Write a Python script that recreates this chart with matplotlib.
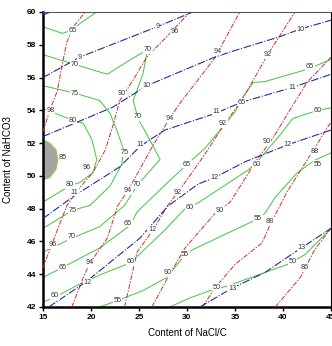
import matplotlib
matplotlib.use('Agg')
import matplotlib.pyplot as plt

plt.rcParams['font.family'] = ['Liberation Sans', 'DejaVu Sans']

#%% blue dash-dot contours (levels 8..13)
blue_lines = {
    '8':  ([15.0, 15.7], [59.8, 60.0]),
    '9':  ([15.0, 18.85, 26.9, 30.6], [56.0, 57.25, 59.1, 60.0]),
    '10': ([15.0, 22.3, 25.8, 32.7, 34.7, 39.7, 41.8, 45.0],
           [52.4, 54.2, 55.5, 57.2, 57.6, 58.5, 58.96, 59.5]),
    '11': ([15.0, 18.3, 23.0, 25.1, 27.7, 32.9, 35.7, 41.0, 45.0],
           [47.4, 48.8, 50.55, 51.8, 52.8, 53.8, 54.5, 55.4, 56.2]),
    '12': ([15.6, 19.4, 25.1, 28.0, 31.15, 32.9, 36.0, 40.5, 45.0],
           [42.0, 43.5, 46.2, 48.15, 49.5, 49.9, 50.85, 51.9, 52.8]),
    '13': ([31.35, 34.7, 38.1, 41.25, 45.0], [42.0, 43.15, 44.1, 45.35, 46.8]),
}
blue_labels = [('9', 18.85, 57.25), ('9', 26.9, 59.1), ('10', 25.8, 55.5),
               ('10', 41.8, 58.96), ('11', 18.3, 49.0), ('11', 25.1, 51.9),
               ('11', 33.1, 53.9), ('11', 41.0, 55.4), ('12', 19.6, 43.5),
               ('12', 26.35, 46.7), ('12', 32.9, 49.9), ('12', 40.5, 51.9),
               ('13', 34.7, 43.15), ('13', 41.9, 45.65)]

#%% red dashed contours (levels 86..98)
red_lines = {
    '98': ([15.0, 15.7, 16.5, 17.0, 17.5, 18.3, 19.4],
           [52.7, 54.0, 55.2, 56.8, 58.2, 59.2, 60.0]),
    '96': ([15.0, 15.9, 17.5, 18.85, 20.2, 21.5, 22.3, 23.0, 24.4, 25.8, 27.9, 30.3],
           [44.4, 45.8, 48.2, 49.3, 50.2, 51.6, 53.1, 54.6, 55.85, 57.25, 58.5, 60.0]),
    '94': ([18.0, 19.2, 19.9, 21.7, 22.8, 23.85, 26.5, 28.2, 29.1, 32.9, 35.5],
           [42.0, 43.8, 44.7, 46.2, 48.2, 49.1, 51.9, 53.5, 54.3, 57.2, 60.0]),
    '92': ([23.5, 24.8, 26.35, 28.0, 29.8, 31.6, 33.95, 35.7, 38.4, 41.25],
           [42.0, 45.35, 46.6, 48.2, 49.6, 51.1, 53.2, 54.6, 57.4, 60.0]),
    '90': ([26.35, 28.0, 29.8, 32.9, 34.5, 37.3, 38.95, 40.7, 42.5, 45.0],
           [42.0, 43.8, 45.6, 47.7, 48.4, 51.0, 52.3, 54.0, 55.7, 57.25]),
    '88': ([31.6, 32.9, 35.0, 37.8, 38.65, 40.4, 43.3, 45.0],
           [42.0, 43.15, 44.6, 45.9, 47.0, 49.0, 51.7, 53.3]),
    '86': ([39.2, 41.8, 43.3, 45.0], [42.0, 43.8, 45.5, 46.8]),
}
red_labels = [('98', 15.8, 54.0), ('96', 28.75, 58.8), ('96', 16.0, 45.8),
              ('96', 19.6, 50.5), ('90', 23.2, 55.05), ('94', 33.2, 57.6),
              ('94', 19.9, 44.7), ('94', 23.85, 49.1), ('94', 28.2, 53.5),
              ('92', 38.4, 57.4), ('92', 33.75, 53.2), ('92', 29.0, 49.0),
              ('90', 38.3, 52.1), ('90', 33.4, 47.9), ('90', 28.0, 44.1),
              ('88', 43.3, 51.5), ('88', 38.65, 47.2), ('86', 42.3, 44.4)]

#%% green solid contours (levels 50..85)
green_lines = [
    ([15.0, 17.0, 18.1, 18.85, 20.6], [59.1, 58.7, 58.9, 59.3, 60.0]),
    ([15.0, 18.3, 21.7, 23.85, 25.9, 25.4, 24.4, 24.9, 25.8, 27.2, 25.9, 24.8,
      23.5, 20.9, 18.0, 15.0],
     [57.4, 56.8, 56.2, 57.0, 57.7, 56.2, 54.6, 53.5, 52.55, 51.0, 50.15, 49.4,
      48.2, 46.9, 46.2, 45.35]),
    ([15.0, 18.3, 20.9, 22.0, 22.8, 23.4, 23.2, 22.0, 19.9, 18.1, 15.0],
     [55.5, 55.05, 54.6, 53.8, 52.6, 51.6, 50.7, 49.4, 48.2, 47.9, 46.8]),
    ([15.0, 18.1, 19.2, 20.1, 20.6, 20.2, 18.85, 17.8, 15.0],
     [54.1, 53.4, 53.2, 52.2, 51.0, 50.2, 49.6, 49.4, 48.4]),
    ([15.0, 17.0, 20.9, 24.1, 24.8, 28.0, 30.0, 31.9, 35.0, 35.8, 36.9, 38.1, 42.5, 45.0],
     [43.8, 44.4, 45.6, 47.0, 47.8, 49.6, 50.7, 51.7, 53.9, 54.8, 55.7, 55.75, 56.5, 57.1]),
    ([15.0, 16.25, 18.5, 20.9, 24.1, 26.1, 27.7, 29.8, 31.15, 36.35, 37.3, 39.7, 41.0, 43.6, 45.0],
     [42.3, 42.6, 43.3, 43.95, 44.7, 45.8, 46.7, 48.0, 48.35, 50.35, 50.85, 52.5, 53.5, 54.0, 54.15]),
    ([20.9, 22.8, 25.4, 27.9, 29.8, 30.6, 37.1, 38.1, 39.2, 41.5, 43.3, 45.0],
     [42.0, 42.4, 43.0, 43.8, 45.2, 45.5, 47.3, 47.7, 48.7, 50.2, 50.95, 51.4]),
    ([28.2, 30.3, 32.4, 34.3, 38.1, 40.5, 42.3, 45.0],
     [42.0, 42.55, 43.0, 43.3, 44.1, 44.6, 45.2, 46.8]),
]
peak_x = [15.0, 15.7, 16.35, 16.55, 16.35, 15.7, 15.0]
peak_y = [52.2, 52.0, 51.6, 51.0, 50.4, 49.9, 49.75]
green_labels = [('65', 18.1, 58.9), ('70', 18.3, 56.8), ('70', 25.9, 57.7),
                ('70', 24.9, 53.6), ('70', 24.8, 49.45), ('70', 18.0, 46.3),
                ('75', 18.3, 55.05), ('75', 23.5, 51.4), ('75', 18.1, 47.9),
                ('80', 18.1, 53.4), ('80', 17.8, 49.45), ('85', 17.1, 51.15),
                ('65', 17.0, 44.4), ('65', 23.85, 47.1), ('65', 30.0, 50.7),
                ('65', 35.7, 54.5), ('65', 42.8, 56.65), ('60', 16.25, 42.7),
                ('60', 24.1, 44.75), ('60', 30.3, 48.1), ('60', 37.3, 50.7),
                ('60', 43.6, 54.0), ('55', 22.8, 42.4), ('55', 29.8, 45.2),
                ('55', 37.4, 47.4), ('55', 43.6, 50.7), ('50', 33.1, 43.2),
                ('50', 41.0, 44.75)]

#%%
fig = plt.figure(figsize=(3.32, 3.46), dpi=100)
ax = fig.add_axes([43/332, 1 - 307/346, 288/332, 295/346])

ax.fill(peak_x, peak_y, color='#a4a4a4', ec='#9ccc3c', lw=0.8, zorder=2)
for xs, ys in green_lines:
    ax.plot(xs, ys, color='#3cc83c', lw=0.7, zorder=2)
for lev, (xs, ys) in red_lines.items():
    ax.plot(xs, ys, color='#d42a2a', lw=0.7, dashes=(5, 1.5, 1.5, 1.5), zorder=3)
for lev, (xs, ys) in blue_lines.items():
    ax.plot(xs, ys, color='#2828a0', lw=0.8, dashes=(7, 1.5, 1, 1.5), zorder=3)

for labels in (green_labels, red_labels, blue_labels):
    for txt, x, y in labels:
        ax.text(x, y, txt, fontsize=5.2, color='#333333', ha='center', va='center',
                zorder=5, bbox=dict(fc='white', ec='none', pad=0.4))

ax.set_xlim(15, 45)
ax.set_ylim(42, 60)
ax.set_xticks(range(15, 46, 5))
ax.set_yticks(range(42, 61, 2))
ax.tick_params(direction='out', length=3, width=1, labelsize=6, pad=2)
for lab in ax.get_xticklabels() + ax.get_yticklabels():
    lab.set_fontweight('bold')
ax.spines['left'].set_linewidth(1.8)
ax.spines['bottom'].set_linewidth(1.8)
ax.spines['top'].set_linewidth(0.8)
ax.spines['top'].set_color('#555555')
ax.spines['right'].set_linewidth(0.8)
ax.set_xlabel('Content of NaCl/C', fontsize=7, labelpad=5)
ax.set_ylabel('Content of NaHCO3', fontsize=7, labelpad=10)

fig.savefig('out.png', dpi=100)
